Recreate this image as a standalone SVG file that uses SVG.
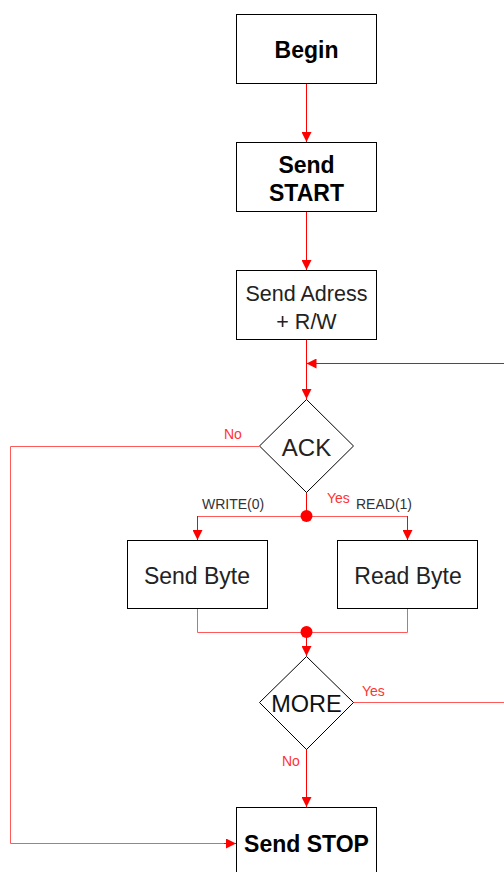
<svg xmlns="http://www.w3.org/2000/svg" width="504" height="872" viewBox="0 0 504 872">
  <style>
    .box { fill: #ffffff; stroke: #000000; stroke-width: 1; }
    .lbl { font-family: "Liberation Sans", Arial, sans-serif; fill: #000000; text-anchor: middle; }
    .bold { font-weight: bold; font-size: 23px; }
    .plain { font-size: 22px; fill: #222222; }
    .edge { fill: none; stroke: #ff0000; stroke-width: 1; }
    .soft { stroke: #ff5a5a; }
    .elbl { font-family: "Liberation Sans", Arial, sans-serif; font-size: 14px; fill: #ff3333; }
    .glbl { font-family: "Liberation Sans", Arial, sans-serif; font-size: 14px; fill: #333333; }
  </style>
  <defs>
    <marker id="arr" viewBox="0 0 10 10" refX="10" refY="5" markerWidth="10" markerHeight="10" markerUnits="userSpaceOnUse" orient="auto">
      <path d="M0,0 L10,5 L0,10 Z" fill="#ff0000"/>
    </marker>
  </defs>
  <rect width="504" height="872" fill="#ffffff"/>

  <g id="connectors">
    <path class="edge" d="M306.5,83 V142" marker-end="url(#arr)"/>
    <path class="edge" d="M306.5,211 V270" marker-end="url(#arr)"/>
    <path class="edge" d="M306.5,339 V399" marker-end="url(#arr)"/>
    <path class="edge" d="M504,363.5 H306.5" marker-end="url(#arr)"/>
    <path class="edge" d="M306.5,492 V516"/>
    <path class="edge soft" d="M197.5,540 V516.5 H407.5 V540"/>
    <path class="edge" d="M197.5,516 V540" marker-end="url(#arr)"/>
    <path class="edge" d="M407.5,516 V540" marker-end="url(#arr)"/>
    <circle cx="306.5" cy="516" r="6" fill="#ff0000"/>
    <path class="edge soft" d="M197.5,608 V632.5 H407.5 V608"/>
    <circle cx="306.5" cy="632" r="6" fill="#ff0000"/>
    <path class="edge" d="M306.5,632 V656" marker-end="url(#arr)"/>
    <path class="edge soft" d="M353,702.5 H504"/>
    <path class="edge" d="M306.5,749 V807" marker-end="url(#arr)"/>
    <path class="edge soft" d="M259,446.5 H10.5 V843.5 H226"/>
    <path class="edge" d="M224,843.5 H236" marker-end="url(#arr)"/>
    <text class="elbl" x="224" y="439">No</text>
    <text class="elbl" x="327" y="503">Yes</text>
    <text class="glbl" x="202" y="509">WRITE(0)</text>
    <text class="glbl" x="356" y="509">READ(1)</text>
    <text class="elbl" x="362" y="696">Yes</text>
    <text class="elbl" x="282" y="766">No</text>
  </g>

  <g id="begin">
    <rect class="box" x="236.5" y="14.5" width="140" height="69"/>
    <text class="lbl bold" x="306.5" y="58">Begin</text>
  </g>
  <g id="send-start">
    <rect class="box" x="236.5" y="142.5" width="140" height="69"/>
    <text class="lbl bold" x="306.5" y="173">Send</text>
    <text class="lbl bold" x="306.5" y="201">START</text>
  </g>
  <g id="send-address">
    <rect class="box" x="236.5" y="270.5" width="140" height="69"/>
    <text class="lbl" x="306.5" y="301" style="font-size:21.5px; fill:#222">Send Adress</text>
    <text class="lbl" x="306.5" y="329" style="font-size:21.5px; fill:#222">+ R/W</text>
  </g>
  <g id="ack">
    <path class="box" d="M306.5,399.5 L353.5,446 L306.5,492.5 L259.5,446 Z"/>
    <text class="lbl" x="306.5" y="456" style="font-size:24px; fill:#222">ACK</text>
  </g>
  <g id="send-byte">
    <rect class="box" x="127.5" y="540.5" width="140" height="68"/>
    <text class="lbl" x="197" y="584" style="font-size:23px; fill:#222">Send Byte</text>
  </g>
  <g id="read-byte">
    <rect class="box" x="337.5" y="540.5" width="140" height="68"/>
    <text class="lbl" x="408" y="584" style="font-size:23px; fill:#222">Read Byte</text>
  </g>
  <g id="more">
    <path class="box" d="M306.5,656.5 L353.5,702.5 L306.5,749.5 L259.5,702.5 Z"/>
    <text class="lbl" x="306.5" y="712" style="font-size:23.5px; fill:#111">MORE</text>
  </g>
  <g id="send-stop">
    <rect class="box" x="236.5" y="807.5" width="140" height="69"/>
    <text class="lbl bold" x="306.5" y="852">Send STOP</text>
  </g>
</svg>
